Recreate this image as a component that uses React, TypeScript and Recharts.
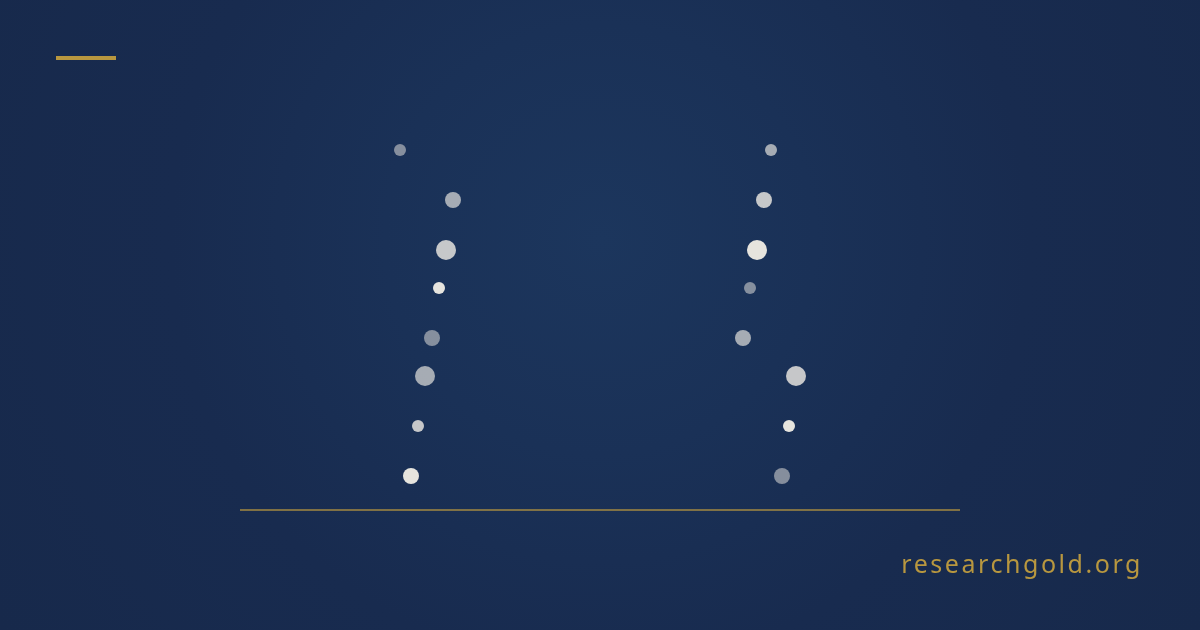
import { ScatterChart, Scatter, XAxis, YAxis, ReferenceLine } from 'recharts';

// positions (x: 0..720 across the gold baseline, y: 0..400 up from it)
const leftX = [160, 213, 206, 199, 192, 185, 178, 171];
const rightX = [531, 524, 517, 510, 503, 556, 549, 542];
const rowY = [360, 310, 260, 222, 172, 134, 84, 34];
const dotRadius = [6, 8, 10, 6, 8, 10, 6, 8];
const leftOpacity = [0.5, 0.65, 0.8, 0.95, 0.5, 0.65, 0.8, 0.95];
const rightOpacity = [0.65, 0.8, 0.95, 0.5, 0.65, 0.8, 0.95, 0.5];

const leftData = leftX.map((x, i) => ({ x, y: rowY[i], r: dotRadius[i], o: leftOpacity[i] }));
const rightData = rightX.map((x, i) => ({ x, y: rowY[i], r: dotRadius[i], o: rightOpacity[i] }));

const GOLD = '#b8973f';

const Dot = (props: any) => {
  const { cx, cy, payload } = props;
  if (cx == null || cy == null) return null;
  return <circle cx={cx} cy={cy} r={payload.r} fill="#f1eee6" fillOpacity={payload.o} />;
};

export default function App() {
  return (
    <div
      style={{
        position: 'fixed',
        top: 0,
        left: 0,
        width: 1200,
        height: 630,
        overflow: 'hidden',
        background: 'radial-gradient(circle at 50% 38%, #1c365d 0%, #1a3157 30%, #182b4f 60%, #17294b 100%)',
        fontFamily: '"Noto Sans", sans-serif',
      }}
    >
      <div style={{ position: 'absolute', left: 56, top: 56, width: 60, height: 4, background: GOLD }} />
      <ScatterChart width={1200} height={630} margin={{ top: 110, right: 240, bottom: 120, left: 240 }}>
        <XAxis type="number" dataKey="x" domain={[0, 720]} hide />
        <YAxis type="number" dataKey="y" domain={[0, 400]} hide />
        <ReferenceLine y={0} stroke={GOLD} strokeOpacity={0.65} strokeWidth={2} />
        <Scatter data={leftData} shape={Dot} isAnimationActive={false} />
        <Scatter data={rightData} shape={Dot} isAnimationActive={false} />
      </ScatterChart>
      <div
        style={{
          position: 'absolute',
          right: 57,
          top: 545,
          fontSize: 25,
          letterSpacing: 2.55,
          color: GOLD,
          lineHeight: '36px',
        }}
      >
        researchgold.org
      </div>
    </div>
  );
}
